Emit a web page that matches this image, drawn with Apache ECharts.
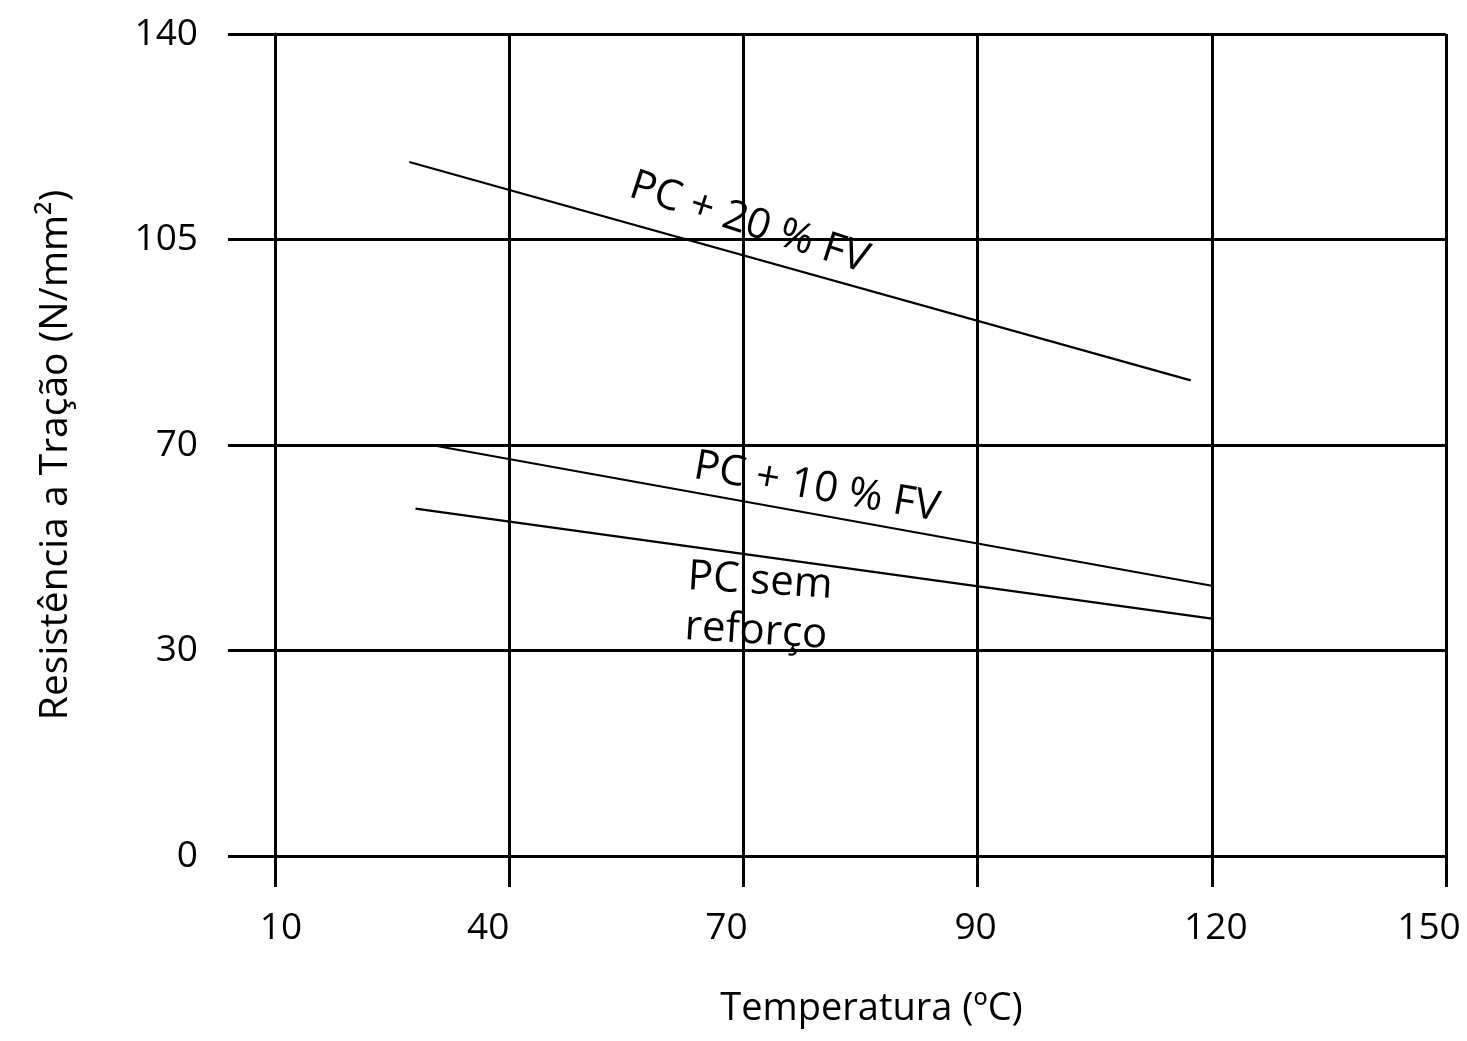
<!DOCTYPE html>
<html>
<head>
<meta charset="utf-8">
<script src="https://cdn.jsdelivr.net/npm/echarts@6/dist/echarts.min.js"></script>
<style>
  html, body { margin: 0; padding: 0; background: #fff; overflow: hidden; }
  #chart { position: absolute; left: 0; top: 0; width: 1467px; height: 1041px; }
</style>
</head>
<body>
<div id="chart"></div>
<script>
// Tick values of both axes (the scale is evenly spaced between ticks, not linear in value)
const xTicks = [10, 40, 70, 90, 120, 150];
const yTicks = [0, 30, 70, 105, 140];

// Curves: [temperature °C, tensile strength N/mm²]
const seriesNames = ['PC + 20 % FV', 'PC + 10 % FV', 'PC sem\nreforço'];
const pc20fv = [[27.2, 118.2], [117.3, 81.0]];
const pc10fv = [[30, 70], [120, 42.6]];
const pcSemReforco = [[28, 57.6], [120, 36.2]];

const FONT = '"Open Sans", "Noto Sans", sans-serif';

// Horizontal nudge (px) of each temperature label relative to its tick
const xLabelShift = [6, -21, -17, -2, 4, -17];

// Map a real value onto the evenly spaced tick index scale
function toIndex(v, ticks) {
  for (let i = 0; i < ticks.length - 1; i++) {
    const a = ticks[i], b = ticks[i + 1];
    if (v <= b || i === ticks.length - 2) return i + (v - a) / (b - a);
  }
  return 0;
}
function toAxis(points) {
  return points.map(p => [toIndex(p[0], xTicks), toIndex(p[1], yTicks)]);
}

// One rich style per temperature label so each can be nudged sideways
const xRich = {};
xLabelShift.forEach((s, i) => {
  xRich['t' + i] = {
    fontFamily: FONT, fontSize: 37, color: '#000',
    padding: s >= 0 ? [0, 0, 0, 2 * s] : [0, -2 * s, 0, 0]
  };
});

const chart = echarts.init(document.getElementById('chart'), null, {
  renderer: 'canvas', width: 1467, height: 1041
});

const lineStyle = { color: '#000', width: 2.2 };
const curves = [pc20fv, pc10fv, pcSemReforco];

chart.setOption({
  animation: false,
  backgroundColor: '#fff',
  grid: { left: 275, right: 21, top: 34, bottom: 185, containLabel: false, outerBoundsMode: 'none' },
  xAxis: {
    type: 'value', min: 0, max: xTicks.length - 1, interval: 1,
    name: 'Temperatura (ºC)', nameLocation: 'middle', nameGap: 134,
    nameTextStyle: { fontFamily: FONT, fontSize: 38, color: '#000', padding: [0, 0, 0, 22] },
    axisLine: { show: true, lineStyle: { color: '#000', width: 3 } },
    axisTick: { show: true, inside: false, length: 31, lineStyle: { color: '#000', width: 3 } },
    axisLabel: {
      margin: 54, fontFamily: FONT, fontSize: 37, color: '#000',
      formatter: v => (xTicks[v] !== undefined ? '{t' + v + '|' + xTicks[v] + '}' : ''),
      rich: xRich
    },
    splitLine: { show: true, lineStyle: { color: '#000', width: 3 } }
  },
  yAxis: {
    type: 'value', min: 0, max: yTicks.length - 1, interval: 1,
    name: 'Resistência a Tração (N/mm²)', nameLocation: 'middle', nameGap: 200, nameRotate: 90,
    nameTextStyle: { fontFamily: FONT, fontSize: 39, color: '#000', padding: [0, 20, 0, 0] },
    axisLine: { show: true, lineStyle: { color: '#000', width: 3 } },
    axisTick: { show: true, inside: false, length: 47, lineStyle: { color: '#000', width: 3 } },
    axisLabel: {
      margin: 77, fontFamily: FONT, fontSize: 37, color: '#000',
      formatter: v => (yTicks[v] !== undefined ? String(yTicks[v]) : '')
    },
    splitLine: { show: true, lineStyle: { color: '#000', width: 3 } }
  },
  series: curves.map((c, i) => ({
    name: seriesNames[i],
    type: 'line',
    data: toAxis(c),
    symbol: 'none',
    lineStyle: lineStyle,
    z: 5
  }))
});

// Curve captions: placed along each curve (fraction t of its length), dy px off the curve
const captions = [
  { series: 0, at: 0.435, dy: -34, rotateDeg: 18, align: 'center' },
  { series: 1, at: 0.494, dy: -27, rotateDeg: 10, align: 'center' },
  { series: 2, at: 0.34, dy: 56, rotateDeg: 3.5, align: 'left' }
];

function placeCaptions() {
  const elements = captions.map(c => {
    const pts = toAxis(curves[c.series]);
    const p0 = chart.convertToPixel({ gridIndex: 0 }, pts[0]);
    const p1 = chart.convertToPixel({ gridIndex: 0 }, pts[1]);
    const x = p0[0] + (p1[0] - p0[0]) * c.at;
    const y = p0[1] + (p1[1] - p0[1]) * c.at + c.dy;
    return {
      type: 'text',
      x: x, y: y,
      rotation: -c.rotateDeg * Math.PI / 180,
      z: 10,
      style: {
        text: seriesNames[c.series],
        fontFamily: FONT, fontSize: 42, fill: '#000',
        align: c.align, verticalAlign: 'middle', lineHeight: 50
      }
    };
  });
  chart.setOption({ graphic: { elements: elements } });
}
placeCaptions();
</script>
</body>
</html>
